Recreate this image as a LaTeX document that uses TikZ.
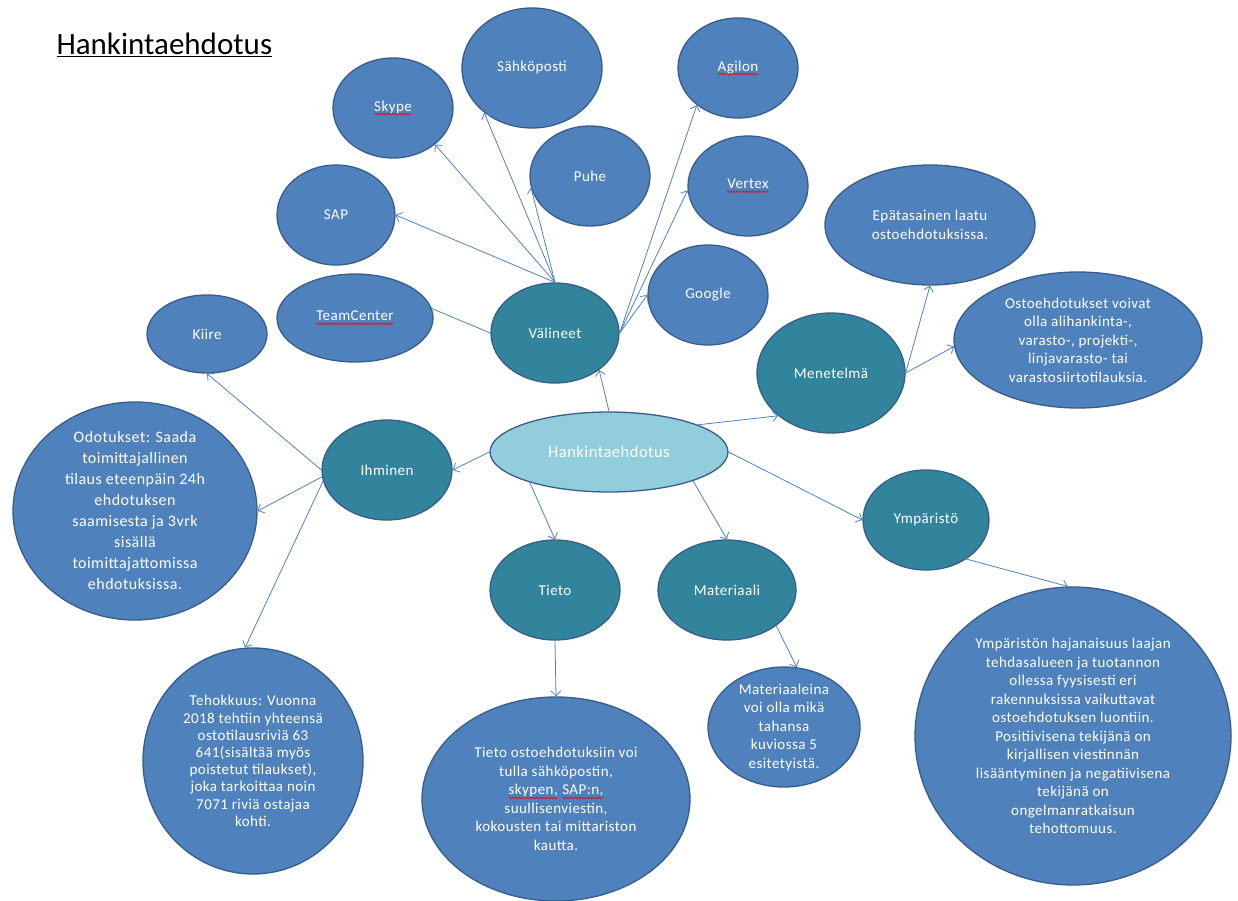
\documentclass[tikz,border=0pt]{standalone}
\usepackage{fontspec}
\setmainfont{Carlito}
\newfontfamily\bubblefont{Carlito}[LetterSpace=3]
\usetikzlibrary{shapes.geometric,arrows.meta,decorations.pathmorphing}
\definecolor{leafblue}{HTML}{4F81BD}
\definecolor{edgeblue}{HTML}{385D8A}
\definecolor{topicteal}{HTML}{31849B}
\definecolor{corecyan}{HTML}{92CDDC}
\newcommand\spellwave[1]{\tikz[baseline=(w.base)]{\node (w) [shape=rectangle,draw=none,fill=none,inner sep=0pt,outer sep=0pt,minimum width=0pt,minimum height=0pt] {#1}; \draw [red,line width=0.6pt,decorate,decoration={snake,amplitude=0.9pt,segment length=3pt}] ([yshift=-3pt]w.base west) -- ([yshift=-3pt]w.base east);}}
\begin{document}
\begin{tikzpicture}[x=1pt,y=-1pt,
  dims/.style 2 args={minimum width=#1pt,minimum height=#2pt},
  bubble/.style={shape=ellipse,draw=edgeblue,line width=1.3pt,text=white,align=center,inner sep=-40pt,font=\bubblefont\fontsize{15}{18.5}\selectfont},
  leaf/.style={bubble,fill=leafblue},
  topic/.style={bubble,fill=topicteal},
  core/.style={bubble,fill=corecyan,font=\bubblefont\fontsize{16.5}{19}\selectfont},
  line/.style={draw=leafblue,line width=0.8pt},
  link/.style={line,-{Straight Barb[length=5pt,width=10pt]}}]
\useasboundingbox (0,0) rectangle (1238,901);
\node (title) at (53,55) [anchor=base west,font=\fontsize{31}{36}\selectfont] {\underline{Hankintaehdotus}};
\node (core) at (609,452) [core,dims={238}{80}] {Hankintaehdotus};
\node (val) at (555,333) [topic,dims={128}{100}] {Välineet};
\node (men) at (831,373) [topic,dims={148}{120}] {Menetelmä};
\node (ihm) at (387,470) [topic,dims={130}{100}] {Ihminen};
\node (tie) at (555,590) [topic,dims={130}{100}] {Tieto};
\node (mat) at (727,590) [topic,dims={138}{100}] {Materiaali};
\node (ymp) at (926,520) [topic,dims={126}{100}] {Ympäristö};
\node (skype) at (393,108) [leaf,dims={120}{100}] {\spellwave{Skype}};
\node (sahko) at (532,68) [leaf,dims={140}{120}] {Sähköposti};
\node (puhe) at (590,176) [leaf,dims={120}{100}] {Puhe};
\node (agilon) at (738,68) [leaf,dims={120}{100}] {\spellwave{Agilon}};
\node (vertex) at (748,186) [leaf,dims={120}{100}] {\spellwave{Vertex}};
\node (google) at (708,295) [leaf,dims={120}{100}] {Google};
\node (sap) at (336,215) [leaf,dims={118}{100}] {SAP};
\node (team) at (355,318) [leaf,dims={156}{88}] {\spellwave{TeamCenter}};
\node (kiire) at (207,334) [leaf,dims={120}{78}] {Kiire};
\node (epa) at (930,225) [leaf,dims={210}{120}] {Epätasainen laatu\\ostoehdotuksissa.};
\node (ost) at (1078,340) [leaf,dims={248}{136}] {Ostoehdotukset voivat\\olla alihankinta-,\\varasto-, projekti-,\\linjavarasto- tai\\varastosiirtotilauksia.};
\node (odo) at (135,511) [leaf,dims={244}{218},font=\bubblefont\fontsize{16}{21}\selectfont] {Odotukset: Saada\\toimittajallinen\\tilaus eteenpäin 24h\\ehdotuksen\\saamisesta ja 3vrk\\sisällä\\toimittajattomissa\\ehdotuksissa.};
\node (teh) at (253,761) [leaf,dims={220}{226},font=\bubblefont\fontsize{15}{17.2}\selectfont] {Tehokkuus: Vuonna\\2018 tehtiin yhteensä\\ostotilausriviä 63\\641(sisältää myös\\poistetut tilaukset),\\joka tarkoittaa noin\\7071 riviä ostajaa\\kohti.};
\node (tix) at (556,799) [leaf,dims={268}{204}] {Tieto ostoehdotuksiin voi\\tulla sähköpostin,\\\spellwave{skypen,} \spellwave{SAP:n,}\\suullisenviestin,\\kokousten tai mittariston\\kautta.};
\node (matx) at (784,727) [leaf,dims={152}{120}] {Materiaaleina\\voi olla mikä\\tahansa\\kuviossa 5\\esitetyistä.};
\node (ympx) at (1073,736) [leaf,dims={316}{298}] {Ympäristön hajanaisuus laajan\\tehdasalueen ja tuotannon\\ollessa fyysisesti eri\\rakennuksissa vaikuttavat\\ostoehdotuksen luontiin.\\Positiivisena tekijänä on\\kirjallisen viestinnän\\lisääntyminen ja negatiivisena\\tekijänä on\\ongelmanratkaisun\\tehottomuus.};
\draw [link] (val.north) -- (skype.319);
\draw [link] (val.north) -- (sahko.223);
\draw [link] (val.north) -- (puhe.191);
\draw [link] (val.north) -- (sap.east);
\draw [line] (val.west) -- (team.7);
\draw [link] (val.east) -- (agilon.222);
\draw [link] (val.east) -- (vertex.184);
\draw [link] (val.east) -- (google.west);
\draw [link] (core.north) -- (val.320);
\draw [link] (core.17) -- (men.219);
\draw [link] (core.west) -- (ihm.east);
\draw [link] (core.201) -- (tie.north);
\draw [link] (core.341) -- (mat.north);
\draw [link] (core.east) -- (ymp.west);
\draw [link] (ihm.west) -- (kiire.south);
\draw [link] (ihm.186) -- (odo.east);
\draw [link] (ihm.190) -- (teh.94);
\draw [link] (men.east) -- (epa.south);
\draw [link] (men.east) -- (ost.183);
\draw [link] (tie.south) -- (tix.north);
\draw [link] (mat.324) -- (matx.78);
\draw [link] (ymp.316) -- (ympx.92);
\end{tikzpicture}
\end{document}
